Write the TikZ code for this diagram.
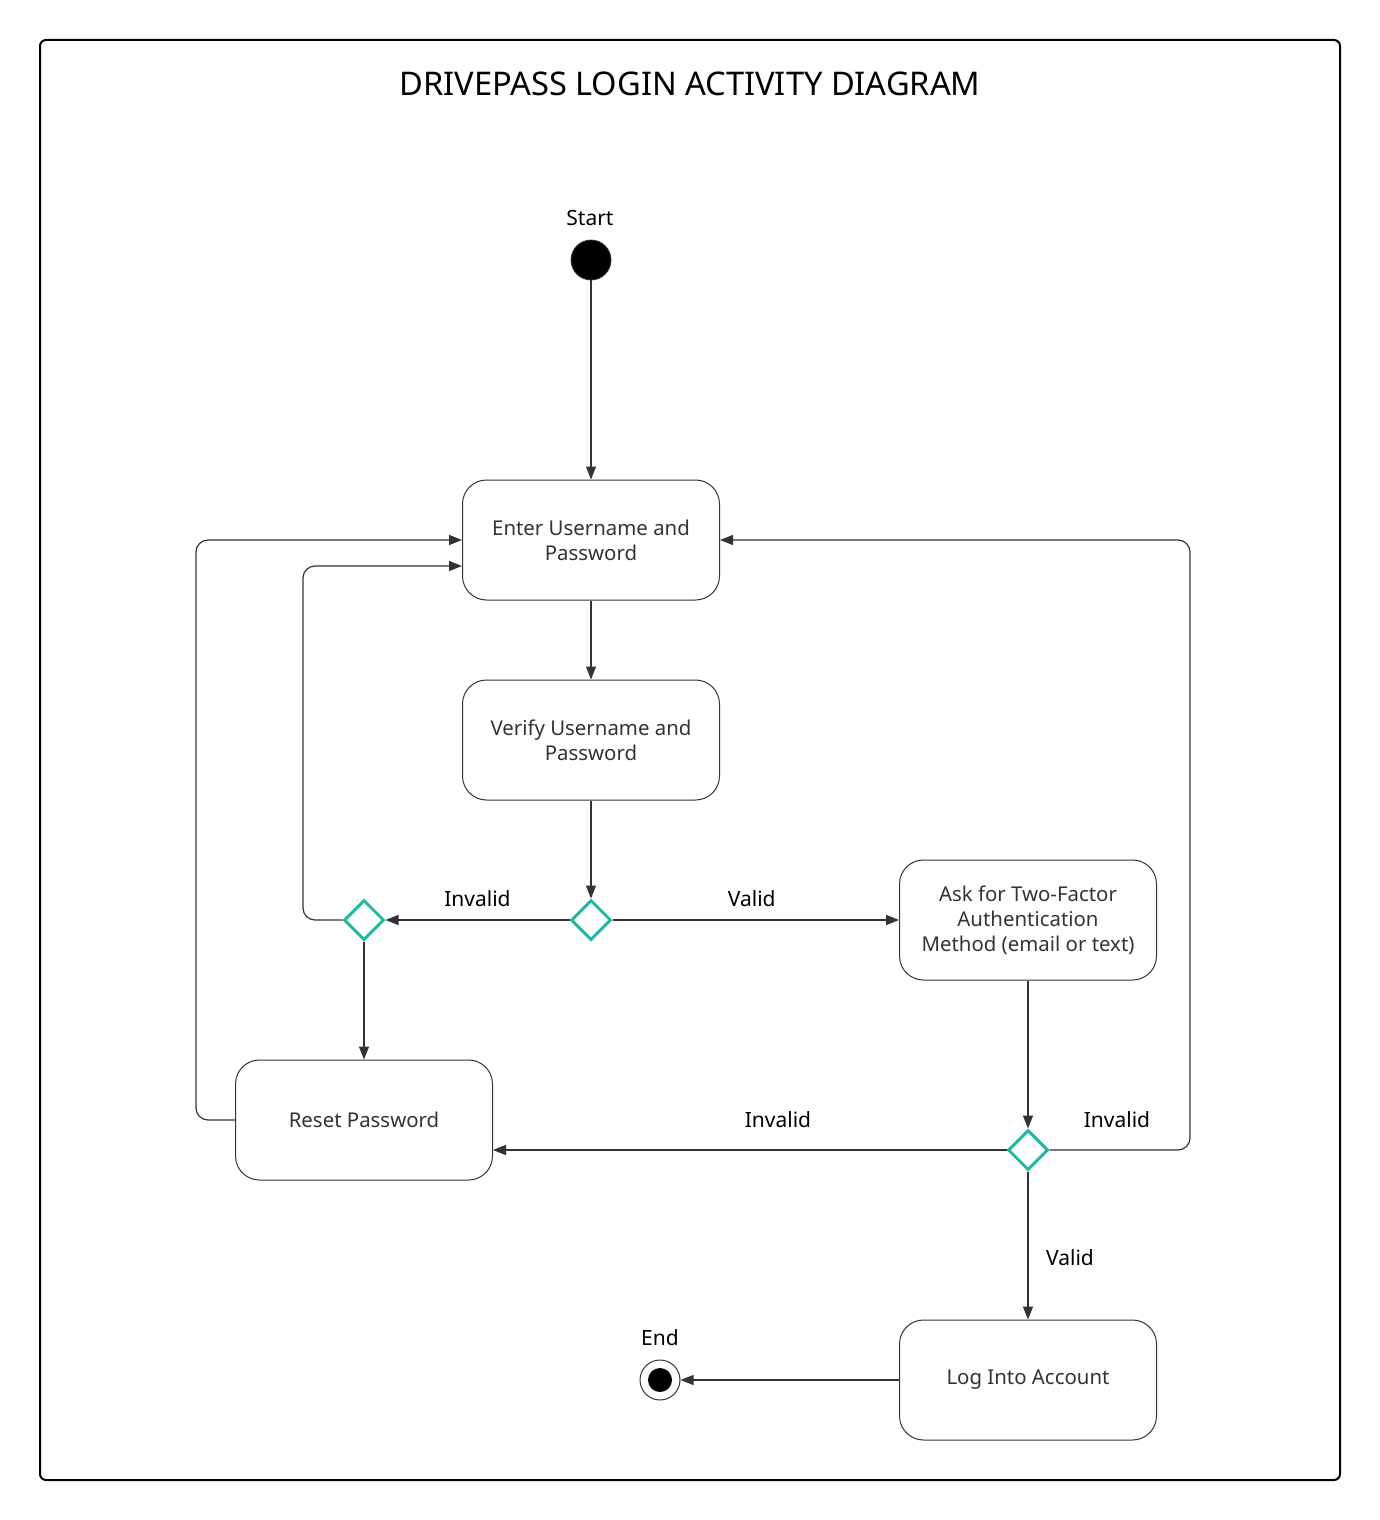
\documentclass[tikz,border=0pt]{standalone}
\usepackage{fontspec}
\setmainfont{Noto Sans}
\usetikzlibrary{arrows.meta}
\usetikzlibrary{shapes.geometric}
\definecolor{linegray}{HTML}{333333}
\definecolor{decteal}{HTML}{1FB8A0}
\tikzset{activity/.style = {draw=linegray, line width=0.5pt, rounded corners=12pt,
                            minimum width=128.5pt, minimum height=60pt, align=center,
                            text=black!80, font=\fontsize{10.2}{12.5}\selectfont},
         decision/.style = {diamond, draw=decteal, line width=1.5pt, inner sep=0pt,
                            minimum width=20pt, minimum height=20pt},
         flow/.style     = {draw=linegray, line width=0.6pt, rounded corners=6pt,
                            -{Triangle[length=6.5pt,width=5pt]}},
         guard/.style    = {font=\fontsize{10.5}{12}\selectfont}}

\begin{document}
\begin{tikzpicture}[x=0.5pt, y=-0.5pt]
  \useasboundingbox (0,0) rectangle (1380,1520);
  \draw[line width=1pt, rounded corners=3pt] (40,40) rectangle (1340,1480);
  \node (title) at (690,84) {\fontsize{16.3}{20}\selectfont DRIVEPASS LOGIN ACTIVITY DIAGRAM};

  % initial and final states
  \node [guard] (startlbl) at (590,218) {Start};
  \node [circle, fill=black, draw=linegray, minimum size=20pt, inner sep=0pt] (start) at (591,260) {};
  \node [guard] (endlbl) at (660,1338) {End};
  \node [circle, draw=linegray, line width=0.5pt, minimum size=20pt, inner sep=0pt,
         path picture={\fill (path picture bounding box.center) circle (6pt);}] (end) at (660,1380) {};

  % activities
  \node [activity] (enter)  at (591,540)  {Enter Username and\\Password};
  \node [activity] (verify) at (591,740)  {Verify Username and\\Password};
  \node [activity] (ask)    at (1028,920) {Ask for Two-Factor\\Authentication\\Method (email or text)};
  \node [activity] (reset)  at (364,1120) {Reset Password};
  \node [activity] (login)  at (1028,1380) {Log Into Account};

  % decisions
  \node [decision] (check)   at (591,920)  {};
  \node [decision] (retry)   at (364,920)  {};
  \node [decision] (twofact) at (1028,1150) {};

  % flows
  \draw [flow] (start) -- (enter);
  \draw [flow] (enter) -- (verify);
  \draw [flow] (verify) -- (check);
  \draw [flow] (check) -- node[guard, above=3pt] {Invalid} (retry);
  \draw [flow] (check) -- node[guard, above=3pt, xshift=-2pt] {Valid} (ask);
  \draw [flow] (retry) -- (reset);
  \draw [flow] (retry.west) -- (303,920) -- (303,566) -- (enter.west |- 0,566);
  \draw [flow] (reset.west) -- (196,1120) -- (196,540) -- (enter.west);
  \draw [flow] (ask) -- (twofact);
  \draw [flow] (twofact) -- (reset.east |- twofact);
  \node [guard] (inv2) at (778,1120) {Invalid};
  \draw [flow] (twofact.east) -- (1190,1150) -- (1190,540) -- (enter.east);
  \node [guard] (inv3) at (1117,1120) {Invalid};
  \draw [flow] (twofact) -- (login);
  \node [guard] (valid2) at (1070,1258) {Valid};
  \draw [flow] (login) -- (end);
\end{tikzpicture}
\end{document}
